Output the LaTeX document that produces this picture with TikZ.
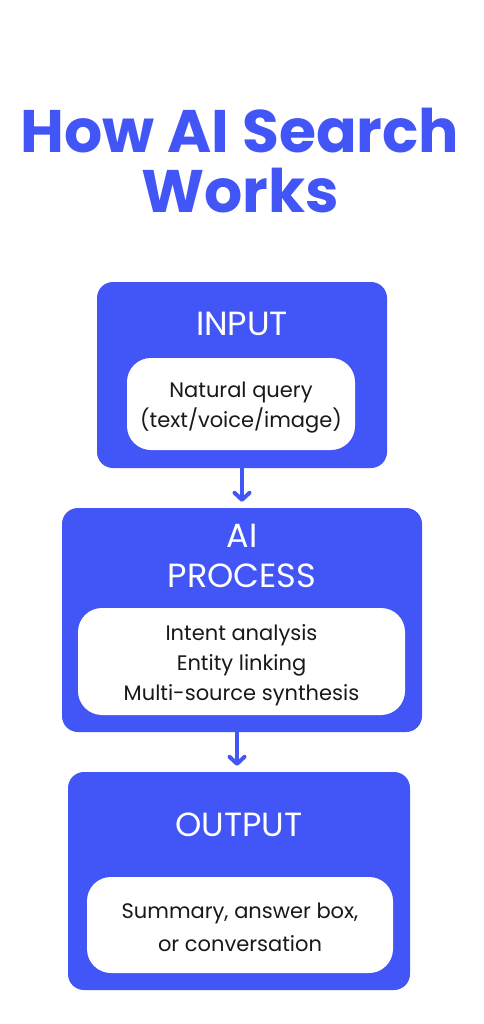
\documentclass[tikz,border=0pt]{standalone}
\usepackage{fontspec}
\setmainfont{Poppins}
\usetikzlibrary{arrows.meta}
\definecolor{brand}{HTML}{4255F7}
\tikzset{
  outerbox/.style={fill=brand, draw=none, rounded corners=16pt, inner sep=0pt},
  innerbox/.style={fill=white, draw=none, rounded corners=24pt, inner sep=0pt},
  head/.style={text=white, font=\fontsize{33.5}{36}\selectfont, anchor=base, inner sep=0pt},
  body/.style={text=black!90, font=\fontsize{21}{24}\selectfont, anchor=base, inner sep=0pt},
  ttl/.style={text=brand, font=\fontsize{60}{64}\bfseries\selectfont, anchor=base, inner sep=0pt},
  flow/.style={draw=brand, line width=4pt, -{Straight Barb[length=7pt,width=15pt,line cap=round,line join=round]}, shorten >=6pt}
}
\begin{document}
\begin{tikzpicture}[x=1pt,y=-1pt]
\useasboundingbox[fill=white] (0,0) rectangle (483,1024);
\node[ttl] (t1) at (240,153) {How AI Search};
\node[ttl] (t2) at (240,213) {Works};

\node[outerbox, minimum width=290pt, minimum height=186pt] (in) at (242,375) {};
\node[innerbox, minimum width=228pt, minimum height=92pt] (inb) at (241,404) {};
\node[head] (inh) at (242,335) {INPUT};
\node[body] (inl1) at (241,397) {Natural query};
\node[body] (inl2) at (241,427) {(text/voice/image)};

\node[outerbox, minimum width=360pt, minimum height=224pt] (pr) at (242,620) {};
\node[innerbox, minimum width=327pt, minimum height=107pt] (prb) at (241.5,661.5) {};
\node[head] (prh1) at (242,547) {AI};
\node[head] (prh2) at (242,587) {PROCESS};
\node[body] (prl1) at (241.5,640) {Intent analysis};
\node[body] (prl2) at (241.5,670) {Entity linking};
\node[body] (prl3) at (241.5,700) {Multi-source synthesis};

\node[outerbox, minimum width=342pt, minimum height=218pt] (out) at (239,881) {};
\node[innerbox, minimum width=306pt, minimum height=96pt] (outb) at (240,925) {};
\node[head] (outh) at (239,836) {OUTPUT};
\node[body] (outl1) at (240,918) {Summary, answer box,};
\node[body] (outl2) at (240,951) {or conversation};

\draw[flow] (in.south) -- (pr.north);
\draw[flow] (pr.south -| 237,0) -- (out.north -| 237,0);
\end{tikzpicture}
\end{document}
